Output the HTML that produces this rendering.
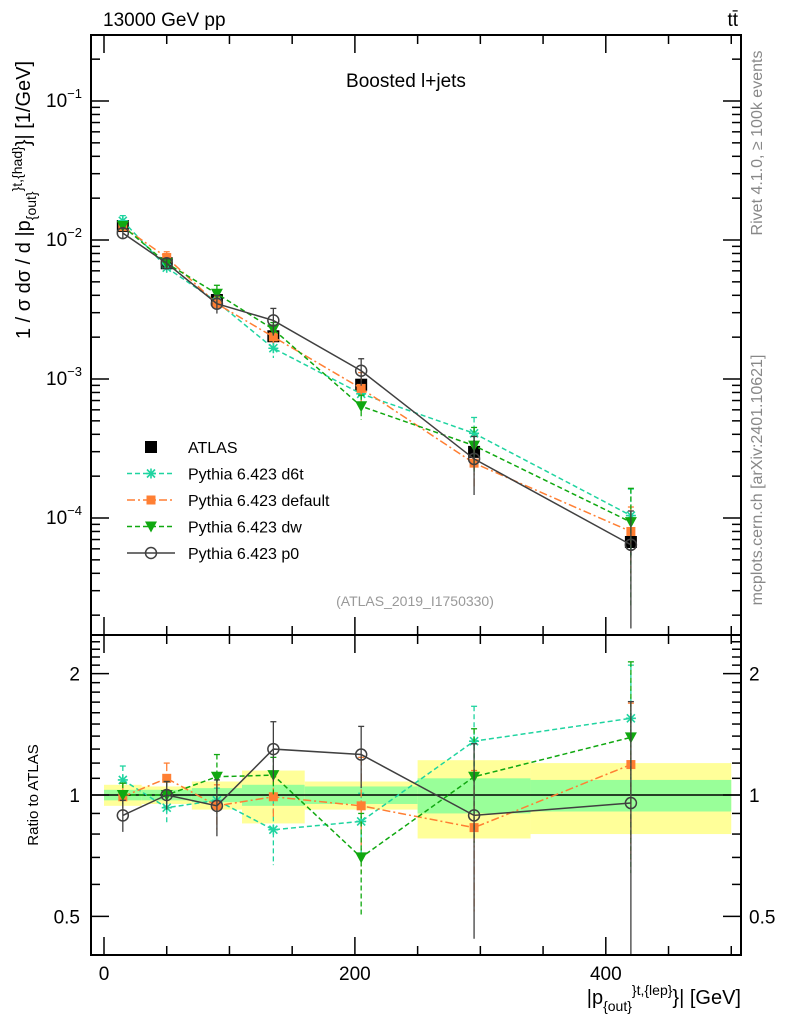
<!DOCTYPE html>
<html><head><meta charset="utf-8"><style>
body{margin:0;background:#fff;}
svg{display:block;font-family:"Liberation Sans",sans-serif;}
</style></head><body>
<svg id="c" width="786" height="1024" viewBox="0 0 786 1024">
<g id="bands"></g>
<g id="grid"></g>
<g id="series"></g>
<rect x="91" y="35" width="650" height="600" fill="none" stroke="#000" stroke-width="2"/>
<rect x="91" y="635" width="650" height="320" fill="none" stroke="#000" stroke-width="2"/>
<text x="103" y="26" font-size="19">13000 GeV pp</text>
<text x="738" y="26" font-size="19" text-anchor="end">tt̄</text>
<text x="406" y="87" font-size="19" text-anchor="middle">Boosted l+jets</text>
<text x="415" y="606" font-size="14" fill="#999" text-anchor="middle">(ATLAS_2019_I1750330)</text>
<text transform="translate(762,143) rotate(-90)" font-size="16" fill="#888" text-anchor="middle">Rivet 4.1.0, ≥ 100k events</text>
<text transform="translate(762,480) rotate(-90)" font-size="16" fill="#888" text-anchor="middle">mcplots.cern.ch [arXiv:2401.10621]</text>
<text transform="translate(30,200) rotate(-90)" font-size="20" text-anchor="middle">1 / σ dσ / d |p<tspan font-size="14" dy="6">{out}</tspan><tspan font-size="14" dy="-14">}</tspan><tspan font-size="14">t,{had}</tspan><tspan dy="8">}| [1/GeV]</tspan></text>
<text transform="translate(38,795) rotate(-90)" font-size="15" text-anchor="middle">Ratio to ATLAS</text>
<text x="741" y="1004" font-size="20" text-anchor="end">|p<tspan font-size="14" dy="7">{out}</tspan><tspan font-size="14" dy="-16">}</tspan><tspan font-size="14">t,{lep}</tspan><tspan dy="9">}| [GeV]</tspan></text>
<g id="legend"></g>
</svg>
<script>
const binEdges=[0,30,70,110,160,250,340,500];
const binCenters=[15,50,90,135,205,295,420];
const atlasValues=[0.0126,0.0068,0.0037,0.00203,0.00091,0.000299,0.0000672];
const atlasStatErr=[0.03,0.03,0.04,0.06,0.05,0.1,0.09];
const atlasTotErr=[0.06,0.05,0.08,0.15,0.08,0.22,0.2];
const ratioD6t=[1.09,0.93,0.97,0.82,0.86,1.36,1.55];
const errD6t=[0.09,0.08,0.07,0.15,0.15,0.3,0.55];
const ratioDefault=[0.99,1.10,0.94,0.99,0.94,0.83,1.19];
const errDefault=[0.08,0.1,0.12,0.12,0.3,0.32,0.5];
const ratioDw=[1.0,1.0,1.11,1.12,0.70,1.11,1.39];
const errDw=[0.07,0.08,0.15,0.12,0.2,0.35,0.75];
const ratioP0=[0.89,1.0,0.94,1.30,1.26,0.89,0.955];
const errP0=[0.08,0.08,0.15,0.22,0.22,0.45,0.75];
const xTicks=[0,200,400];

const NS="http://www.w3.org/2000/svg";
const svg=document.getElementById('c');
function X(v){return 104+v*1.2545;}
function Ym(v){return 240-139*(Math.log10(v)+2);}
function Yr(r){return 795-403*Math.log10(r);}
function mk(tag,attrs,parent){const e=document.createElementNS(NS,tag);for(const k in attrs)e.setAttribute(k,attrs[k]);parent.appendChild(e);return e;}

const bands=document.getElementById('bands');
for(let i=0;i<binCenters.length;i++){
  const x0=X(binEdges[i]),x1=X(binEdges[i+1]);
  const y=mk('rect',{x:x0,y:Yr(1+atlasTotErr[i]),width:x1-x0,height:Yr(1-atlasTotErr[i])-Yr(1+atlasTotErr[i]),fill:'#ffff99'},bands);
  
  
  const g=mk('rect',{x:x0,y:Yr(1+atlasStatErr[i]),width:x1-x0,height:Yr(1-atlasStatErr[i])-Yr(1+atlasStatErr[i]),fill:'#99ff99'},bands);
  
  
}

const grid=document.getElementById('grid');
for(let d=-5;d<=-1;d++){
  for(let m=1;m<=9;m++){
    const v=m*Math.pow(10,d);const y=Ym(v);
    if(y<35||y>635)continue;
    const len=m===1?18:9;
    mk('line',{x1:91,x2:91+len,y1:y,y2:y,stroke:'#000','stroke-width':1.5},grid);
    mk('line',{x1:741,x2:741-len,y1:y,y2:y,stroke:'#000','stroke-width':1.5},grid);
    if(m===1){
      const t=mk('text',{x:82,y:y+6,'font-size':19,'text-anchor':'end'},grid);
      t.innerHTML='10<tspan font-size="13" dy="-9">'+d.toString().replace('-','−')+'</tspan>';
      
      
    }
  }
}
for(let r=0.4;r<=2.55;r+=0.1){
  const rr=Math.round(r*10)/10;const y=Yr(rr);
  if(y<635||y>955)continue;
  const major=(rr===0.5||rr===1||rr===2);
  const len=major?18:9;
  mk('line',{x1:91,x2:91+len,y1:y,y2:y,stroke:'#000','stroke-width':1.5},grid);
  mk('line',{x1:741,x2:741-len,y1:y,y2:y,stroke:'#000','stroke-width':1.5},grid);
  if(major){
    const t=mk('text',{x:80,y:y+7,'font-size':19,'text-anchor':'end'},grid);t.textContent=String(rr);
    
    
    const t2=mk('text',{x:749,y:y+7,'font-size':19},grid);t2.textContent=String(rr);
    
    
  }
}
for(let v=0;v<=500;v+=50){
  const x=X(v);const major=v%200===0;const len=major?18:9;
  [[35,1],[635,-1],[635,1],[955,-1]].forEach(([y0,s])=>mk('line',{x1:x,x2:x,y1:y0,y2:y0+s*len,stroke:'#000','stroke-width':1.5},grid));
}
xTicks.forEach(v=>{const t=mk('text',{x:X(v),y:980,'font-size':19,'text-anchor':'middle'},grid);t.textContent=v;
  
  });
mk('line',{x1:91,x2:741,y1:Yr(1),y2:Yr(1),stroke:'#000','stroke-width':1.5},grid);

const series=document.getElementById('series');
function marker(type,x,y,col,g){
  if(type==='sq')return mk('rect',{x:x-6,y:y-6,width:12,height:12,fill:col},g);
  if(type==='sqs')return mk('rect',{x:x-4.5,y:y-4.5,width:9,height:9,fill:col},g);
  if(type==='tri')return mk('path',{d:`M${x-6},${y-5}L${x+6},${y-5}L${x},${y+6}Z`,fill:col},g);
  if(type==='circ')return mk('circle',{cx:x,cy:y,r:5.5,fill:'none',stroke:col,'stroke-width':1.5},g);
  if(type==='star'){return mk('path',{d:`M${x-5},${y}L${x+5},${y}M${x},${y-5}L${x},${y+5}M${x-4},${y-4}L${x+4},${y+4}M${x-4},${y+4}L${x+4},${y-4}`,stroke:col,'stroke-width':1.6},g);}
}
function drawSeries(name,ratios,errs,col,dash,type){
  const g=mk('g',{},series);
  
  
  const mp=[],rp=[];
  ratios.forEach((r,i)=>{
    const v=atlasValues[i]*r;const x=X(binCenters[i]);
    mp.push([x,Ym(v)]);rp.push([x,Yr(r)]);
    const e=errs[i];
    mk('line',{x1:x,x2:x,y1:Ym(v*(1+e)),y2:Ym(Math.max(v*(1-e),1e-6)),stroke:col,'stroke-width':1.3,'stroke-dasharray':dash},g);
    mk('line',{x1:x,x2:x,y1:Yr(r+e),y2:Math.min(Yr(Math.max(r-e,0.3)),955),stroke:col,'stroke-width':1.3,'stroke-dasharray':dash},g);
    [Ym(v*(1+e)),Yr(r+e)].forEach(yy=>mk('line',{x1:x-3,x2:x+3,y1:yy,y2:yy,stroke:col,'stroke-width':1.3},g));
  });
  mk('polyline',{points:mp.map(p=>p.join(',')).join(' '),fill:'none',stroke:col,'stroke-width':1.5,'stroke-dasharray':dash},g);
  mk('polyline',{points:rp.map(p=>p.join(',')).join(' '),fill:'none',stroke:col,'stroke-width':1.5,'stroke-dasharray':dash},g);
  mp.concat(rp).forEach(p=>{const m=marker(type,p[0],p[1],col,g);
    
    });
}
const ga=mk('g',{},series);


atlasValues.forEach((v,i)=>{const x=X(binCenters[i]);const e=atlasTotErr[i];
  mk('line',{x1:x,x2:x,y1:Ym(v*(1+e)),y2:Ym(v*(1-e)),stroke:'#000','stroke-width':1.5},ga);
  const m=marker('sq',x,Ym(v),'#000',ga);
  
  });
drawSeries('pythia-d6t',ratioD6t,errD6t,'#1fd4a0','5,3','star');
drawSeries('pythia-default',ratioDefault,errDefault,'#ff7f33','8,3,2,3','sqs');
drawSeries('pythia-dw',ratioDw,errDw,'#10a810','5,3','tri');
drawSeries('pythia-p0',ratioP0,errP0,'#404040','none','circ');

const lg=document.getElementById('legend');
const legItems=[['ATLAS','#000',null,'sq'],['Pythia 6.423 d6t','#1fd4a0','5,3','star'],['Pythia 6.423 default','#ff7f33','8,3,2,3','sqs'],['Pythia 6.423 dw','#10a810','5,3','tri'],['Pythia 6.423 p0','#404040','none','circ']];
legItems.forEach((it,i)=>{
  const y=447+i*26.5;
  const g=mk('g',{},lg);
  
  
  if(it[2])mk('line',{x1:127,x2:175,y1:y,y2:y,stroke:it[1],'stroke-width':1.5,'stroke-dasharray':it[2]},g);
  marker(it[3],151,y,it[1],g);
  const t=mk('text',{x:188,y:y+6,'font-size':16},g);t.textContent=it[0];
});
</script>
</body></html>
